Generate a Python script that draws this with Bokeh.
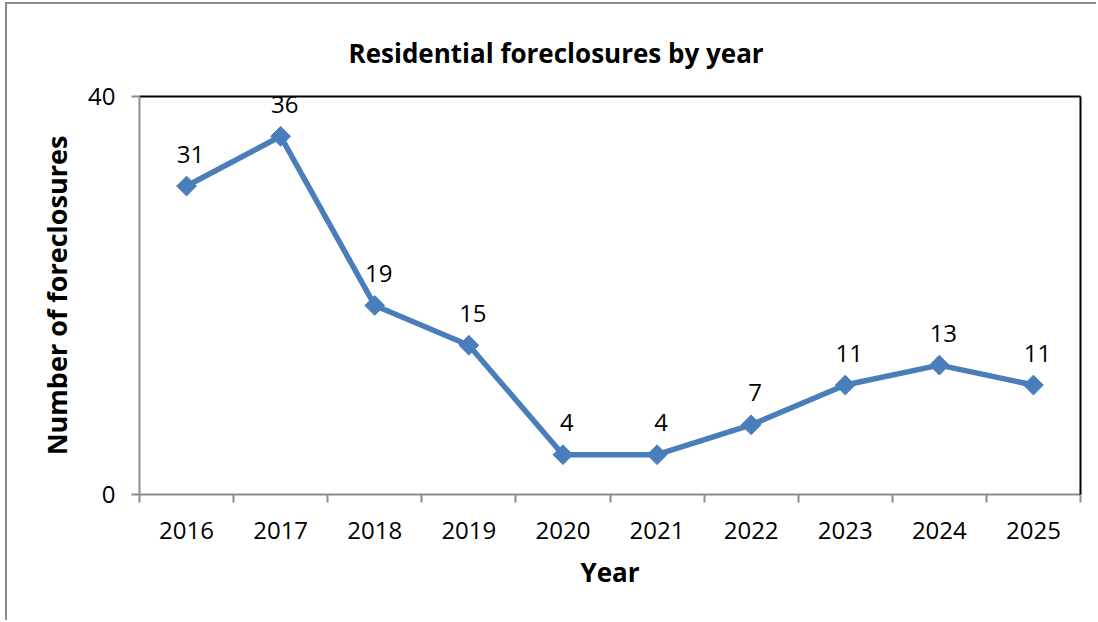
from bokeh.plotting import figure
from bokeh.models import (Range1d, FixedTicker, LinearAxis, ColumnDataSource,
                          LabelSet, Title)
from bokeh.embed import file_html
from bokeh.resources import INLINE
from bokeh.core.properties import value
import math

# ---- data ----
years = ["2016", "2017", "2018", "2019", "2020", "2021", "2022", "2023", "2024", "2025"]
foreclosures = [31, 36, 19, 15, 4, 4, 7, 11, 13, 11]
y_ticks = [0, 40]
title_text = "Residential foreclosures by year"
x_title = "Year"
y_title = "Number of foreclosures"

FONT = "Open Sans"
BLUE = "#4a7ebb"
GRAY = "#8c8c8c"

centers = [i + 0.5 for i in range(len(years))]
bounds = list(range(len(years) + 1))

src = ColumnDataSource(dict(x=centers, y=foreclosures,
                            lab=[str(v) for v in foreclosures]))

p = figure(width=1091, height=618, output_backend="svg", toolbar_location=None,
           title_location=None,
           x_range=Range1d(0, len(years)), y_range=Range1d(y_ticks[0], y_ticks[-1]),
           min_border_left=132, min_border_right=18, min_border_top=92,
           min_border_bottom=128)
p.styles = {"margin-left": "5px", "margin-top": "2px",
            "border-left": f"2px solid {GRAY}", "border-top": f"2px solid {GRAY}"}
p.grid.visible = False
p.outline_line_color = None
p.background_fill_color = "white"
p.border_fill_color = "white"

p.line("x", "y", source=src, line_color=BLUE, line_width=5.5)
p.scatter("x", "y", source=src, marker="square", size=14, angle=math.pi / 4,
          fill_color=BLUE, line_color=BLUE)

labels = LabelSet(x="x", y="y", text="lab", source=src, x_offset=4, y_offset=32,
                  text_align="center", text_baseline="middle",
                  text_font=value(FONT), text_font_size="24px", text_color="black")
p.add_layout(labels)

# x axis
xa = p.xaxis[0]
xa.ticker = FixedTicker(ticks=centers, minor_ticks=bounds)
xa.major_label_overrides = {c: y for c, y in zip(centers, years)}
xa.major_tick_out = 0
xa.major_tick_in = 0
xa.minor_tick_out = 8
xa.minor_tick_in = 0
xa.minor_tick_line_color = GRAY
xa.minor_tick_line_width = 2
xa.axis_line_color = GRAY
xa.axis_line_width = 2
xa.major_label_text_font = FONT
xa.major_label_text_font_size = "24px"
xa.major_label_text_color = "black"
xa.major_label_standoff = 19
xa.axis_label = x_title
xa.axis_label_text_font = FONT
xa.axis_label_text_font_size = "26px"
xa.axis_label_text_font_style = "bold"
xa.axis_label_text_color = "black"
xa.axis_label_standoff = 12

# y axis
ya = p.yaxis[0]
ya.ticker = FixedTicker(ticks=y_ticks)
ya.major_tick_out = 8
ya.major_tick_in = 0
ya.minor_tick_out = 0
ya.minor_tick_in = 0
ya.major_tick_line_color = GRAY
ya.major_tick_line_width = 2
ya.axis_line_color = GRAY
ya.axis_line_width = 2
ya.major_label_text_font = FONT
ya.major_label_text_font_size = "24px"
ya.major_label_text_color = "black"
ya.major_label_standoff = 16
ya.axis_label = y_title
ya.axis_label_text_font = FONT
ya.axis_label_text_font_size = "27px"
ya.axis_label_text_font_style = "bold"
ya.axis_label_text_color = "black"
ya.axis_label_standoff = 10

# black frame top and right
for side in ("above", "right"):
    ax = LinearAxis(ticker=FixedTicker(ticks=[]), major_label_text_font_size="0px",
                    axis_line_color="black", axis_line_width=2,
                    major_tick_line_color=None, minor_tick_line_color=None)
    p.add_layout(ax, side)

title = Title(text=title_text, align="left", offset=209, standoff=51,
              text_font=FONT, text_font_size="26px", text_font_style="bold",
              text_color="black")
p.add_layout(title, "above")

open("out.html", "w").write(file_html(p, INLINE))
